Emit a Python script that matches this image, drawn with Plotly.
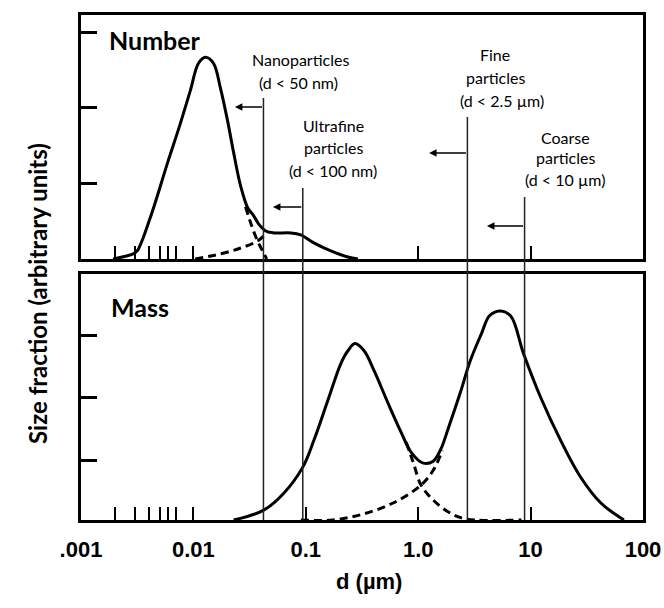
import numpy as np
import plotly.graph_objects as go

# ---------------- data ----------------
# Number distribution (top panel), d in micrometres, arbitrary units 0-100
number_total_d = [0.00193, 0.00291, 0.00316, 0.00413, 0.00586, 0.00766, 0.0094, 0.0111,
                  0.0128, 0.0151, 0.0174, 0.0201, 0.0228, 0.0263, 0.0304, 0.0344, 0.0380,
                  0.0440, 0.0518, 0.0735, 0.0901, 0.118, 0.167, 0.237, 0.291]
number_total_y = [0, 2.1, 3.3, 16.9, 39.1, 55.6, 69.1, 80.2,
                  82.7, 80.2, 70.0, 56.8, 43.6, 30.0, 21.0, 17.7, 14.4,
                  11.5, 10.7, 10.7, 9.9, 6.6, 3.3, 0.8, 0]
number_mode1_d = [0.0291, 0.0330, 0.0372, 0.0413, 0.0449]
number_mode1_y = [21.4, 13.6, 7.4, 3.3, 0]
number_mode2_d = [0.0104, 0.0174, 0.0263, 0.0372, 0.0458]
number_mode2_y = [0, 2.1, 4.5, 7.4, 11.1]

# Mass distribution (bottom panel)
mass_total_d = [0.0228, 0.0422, 0.0637, 0.094, 0.118, 0.157, 0.205, 0.237, 0.274, 0.33,
                0.405, 0.54, 0.705, 0.866, 1.11, 1.36, 1.6, 1.85, 2.37, 2.91, 3.65,
                4.31, 5.29, 6.63, 8.66, 12.3, 18.5, 27.9, 42.2, 67.7]
mass_total_y = [0, 4.0, 10.9, 21.5, 32.4, 48.6, 63.6, 68.8, 71.7, 68.8,
                60.7, 47.4, 35.6, 27.5, 23.1, 23.9, 29.1, 37.2, 51.8, 64.8, 75.7,
                83.0, 85.0, 83.0, 67.6, 49.8, 32.4, 17.4, 6.9, 0]
mass_mode1_d = [0.782, 0.902, 1.06, 1.36, 1.93, 2.68, 8.3]
mass_mode1_y = [31.6, 23.5, 14.2, 8.1, 2.8, 0.4, 0]
mass_mode2_d = [0.0902, 0.174, 0.323, 0.598, 1.06, 1.36, 1.64]
mass_mode2_y = [0, 0, 2.4, 6.9, 14.2, 20.2, 28.3]

# size-class boundaries (as drawn) and arrow heads
threshold_d = [0.042, 0.094, 2.74, 8.84]
arrow_head_d = [0.0234, 0.051, 1.25, 4.09]
arrow_y = [62.3, 21.3, 43.4, 13.5]
threshold_labels = [["Nanoparticles", "(d < 50 nm)"],
                    ["Ultrafine", "particles", "(d < 100 nm)"],
                    ["Fine", "particles", "(d < 2.5 µm)"],
                    ["Coarse", "particles", "(d < 10 µm)"]]

xtick_vals = [0.001, 0.01, 0.1, 1, 10, 100]
xtick_text = [".001", "0.01", "0.1", "1.0", "10", "100"]
minor_tick_vals = [0.002, 0.003, 0.004, 0.005, 0.006, 0.007, 0.01, 1, 10]
number_yticks = [31, 62, 93]
mass_yticks = [24, 49.6, 75.2]

# ---------------- layout geometry ----------------
W, H = 664, 608
L, R, T, B = 81, 21, 15, 88
PW, PH = W - L - R, H - T - B


def px_x(px):
    return (px - L) / PW


def px_y(py):
    return (H - B - py) / PH


fig = go.Figure()
solid = dict(color="black", width=3)
dashed = dict(color="black", width=3, dash="8px,5px")

fig.add_trace(go.Scatter(x=number_total_d, y=number_total_y, mode="lines", line=solid,
                         line_shape="spline", xaxis="x2", yaxis="y2", hoverinfo="skip"))
fig.add_trace(go.Scatter(x=number_mode1_d, y=number_mode1_y, mode="lines", line=dashed,
                         line_shape="spline", xaxis="x2", yaxis="y2", hoverinfo="skip"))
fig.add_trace(go.Scatter(x=number_mode2_d, y=number_mode2_y, mode="lines", line=dashed,
                         line_shape="spline", xaxis="x2", yaxis="y2", hoverinfo="skip"))
fig.add_trace(go.Scatter(x=mass_total_d, y=mass_total_y, mode="lines", line=solid,
                         line_shape="spline", xaxis="x", yaxis="y", hoverinfo="skip"))
fig.add_trace(go.Scatter(x=mass_mode1_d, y=mass_mode1_y, mode="lines", line=dashed,
                         line_shape="spline", xaxis="x", yaxis="y", hoverinfo="skip"))
fig.add_trace(go.Scatter(x=mass_mode2_d, y=mass_mode2_y, mode="lines", line=dashed,
                         line_shape="spline", xaxis="x", yaxis="y", hoverinfo="skip"))

frame = dict(showline=True, mirror=True, linewidth=2.5, linecolor="black",
             showgrid=False, zeroline=False, automargin=False)
tickfont = dict(family="Liberation Sans, Arial", size=22, color="black", weight="bold")

all_bottom_ticks = sorted(set(xtick_vals + minor_tick_vals))
bottom_text = [xtick_text[xtick_vals.index(v)] if v in xtick_vals else "" for v in all_bottom_ticks]

fig.update_layout(
    width=W, height=H, margin=dict(l=L, r=R, t=T, b=B, autoexpand=False),
    paper_bgcolor="white", plot_bgcolor="white", showlegend=False,
    xaxis=dict(type="log", range=[-3, 2], domain=[0, 1], anchor="y",
               tickvals=all_bottom_ticks, ticktext=bottom_text, ticks="inside",
               ticklen=13, tickwidth=2, tickcolor="black", tickfont=tickfont,
               ticklabelstandoff=8, **frame),
    yaxis=dict(range=[0, 100], domain=[0, px_y(274)], anchor="x",
               tickvals=mass_yticks, ticks="inside", ticklen=16, tickwidth=2.5,
               tickcolor="black", showticklabels=False, **frame),
    xaxis2=dict(type="log", range=[-3, 2], domain=[0, 1], anchor="y2",
                tickvals=minor_tick_vals, ticks="inside", ticklen=13, tickwidth=2,
                tickcolor="black", showticklabels=False, **frame),
    yaxis2=dict(range=[0, 100], domain=[px_y(259), 1], anchor="x2",
                tickvals=number_yticks, ticks="inside", ticklen=16, tickwidth=2.5,
                tickcolor="black", showticklabels=False, **frame),
)

# boundary lines spanning both panels
line_tops = [98, 188, 117, 197]
for d, top in zip(threshold_d, line_tops):
    fig.add_shape(type="line", xref="x", yref="paper", x0=d, x1=d, y0=0, y1=px_y(top),
                  line=dict(color="#222222", width=1.5))

# arrows pointing to smaller sizes
for d, head, yv in zip(threshold_d, arrow_head_d, arrow_y):
    fig.add_annotation(xref="x2", yref="y2", x=np.log10(head), y=yv,
                       axref="x2", ayref="y2", ax=np.log10(d), ay=yv, text="",
                       showarrow=True, arrowhead=2, arrowsize=1, arrowwidth=1.5,
                       arrowcolor="black", standoff=0, startstandoff=0)

# class labels
label_font = dict(family="Lato, Open Sans", size=16, color="black")
label_pos = [[(300, 60), (298, 82)],
             [(333, 126), (333, 147), (333, 170)],
             [(495, 55), (495, 77), (502, 100)],
             [(565, 137), (565, 157), (565, 180)]]
for lines, pos in zip(threshold_labels, label_pos):
    for txt, (px, py) in zip(lines, pos):
        fig.add_annotation(xref="paper", yref="paper", x=px_x(px), y=px_y(py), text=txt,
                           showarrow=False, xanchor="center", yanchor="middle", font=label_font)

panel_font = dict(family="Lato, Open Sans", size=25, color="black", weight="bold")
fig.add_annotation(xref="paper", yref="paper", x=px_x(107), y=px_y(40), text="Number",
                   showarrow=False, xanchor="left", yanchor="middle", font=panel_font)
fig.add_annotation(xref="paper", yref="paper", x=px_x(109), y=px_y(307), text="Mass",
                   showarrow=False, xanchor="left", yanchor="middle", font=panel_font)

fig.add_annotation(xref="paper", yref="paper", x=px_x(37), y=px_y(294),
                   text="Size fraction (arbitrary units)", textangle=-90, showarrow=False,
                   xanchor="center", yanchor="middle",
                   font=dict(family="Lato, Open Sans", size=24, color="black", weight="bold"))
fig.add_annotation(xref="paper", yref="paper", x=px_x(369), y=px_y(581), text="d (µm)",
                   showarrow=False, xanchor="center", yanchor="middle",
                   font=dict(family="Liberation Sans, Arial", size=22, color="black", weight="bold"))

fig.write_html("out.html")
